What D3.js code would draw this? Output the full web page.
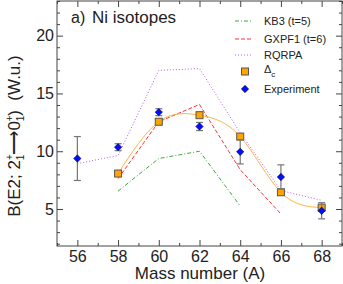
<!DOCTYPE html>
<meta charset="utf-8">
<style>
body { margin: 0; background: #fff; }
text { font-family: "Liberation Sans", Arial, sans-serif; fill: #222; }
</style>
<body>
<script src="https://d3js.org/d3.v7.min.js"></script>
<script>

width = 343;
height = 284;
margin = ({top: 1, right: 1, bottom: 38, left: 57});

// model curves
kb3A = [58, 60, 62, 64];
kb3 = [6.55, 9.37, 10.0, 5.26];
gxpfA = [58, 60, 62, 64, 66];
gxpf = [7.63, 12.55, 14.05, 8.4, 4.57];
rqrpaA = [56, 58, 60, 62, 64, 66, 68];
rqrpa = [8.93, 9.63, 17.0, 17.15, 11.6, 6.6, 5.75];

// Delta_c points
dcA = [58, 60, 62, 64, 66, 68];
dc = [8.07, 12.55, 13.12, 11.27, 6.45, 5.12];

// experiment with errors
expA = [56, 58, 60, 62, 64, 66, 68];
expV = [9.37, 10.35, 13.38, 12.14, 9.95, 7.77, 4.85];
expErr = [1.9, 0.3, 0.3, 0.35, 1.05, 1.05, 0.7];

xTicks = [56, 58, 60, 62, 64, 66, 68];
yTicks = [5, 10, 15, 20];

x = d3.scaleLinear([55, 69], [margin.left, width - margin.right]);
y = d3.scaleLinear([1.8, 23], [height - margin.bottom, margin.top]);

svg = d3.select("body").append("svg")
    .attr("width", width)
    .attr("height", height);

frameColor = "#444";

// axes, ticks pointing inward on all four sides
function ticksX(g, len, vals, labels) {
  g.call(d3.axisBottom(x).tickValues(vals).tickSizeInner(-len).tickSizeOuter(0)
      .tickFormat(labels ? d3.format("d") : ""));
  g.select(".domain").remove();
  g.selectAll("line").attr("stroke", frameColor);
  g.selectAll("text").attr("font-size", 16).attr("y", 5).attr("dy", "0.71em");
}
function ticksY(g, len, vals, labels) {
  g.call(d3.axisLeft(y).tickValues(vals).tickSizeInner(-len).tickSizeOuter(0)
      .tickFormat(labels ? d3.format("d") : ""));
  g.select(".domain").remove();
  g.selectAll("line").attr("stroke", frameColor);
  g.selectAll("text").attr("font-size", 16).attr("x", -3);
}

xMinor = d3.range(55, 70, 1).filter(v => v % 2 == 1);
yMinor = d3.range(2, 24, 1).filter(v => v % 5 != 0);

svg.append("g").attr("transform", `translate(0,${height - margin.bottom})`).call(ticksX, 6, xTicks, true);
svg.append("g").attr("transform", `translate(0,${height - margin.bottom})`).call(ticksX, 3, xMinor, false);
svg.append("g").attr("transform", `translate(0,${margin.top})`).call(g => {
  g.call(d3.axisTop(x).tickValues(xTicks).tickSizeInner(-6).tickSizeOuter(0).tickFormat(""));
  g.select(".domain").remove(); g.selectAll("line").attr("stroke", frameColor);
});
svg.append("g").attr("transform", `translate(0,${margin.top})`).call(g => {
  g.call(d3.axisTop(x).tickValues(xMinor).tickSizeInner(-3).tickSizeOuter(0).tickFormat(""));
  g.select(".domain").remove(); g.selectAll("line").attr("stroke", frameColor);
});
svg.append("g").attr("transform", `translate(${margin.left},0)`).call(ticksY, 6, yTicks, true);
svg.append("g").attr("transform", `translate(${margin.left},0)`).call(ticksY, 3, yMinor, false);
svg.append("g").attr("transform", `translate(${width - margin.right},0)`).call(g => {
  g.call(d3.axisRight(y).tickValues(yTicks).tickSizeInner(-6).tickSizeOuter(0).tickFormat(""));
  g.select(".domain").remove(); g.selectAll("line").attr("stroke", frameColor);
});
svg.append("g").attr("transform", `translate(${width - margin.right},0)`).call(g => {
  g.call(d3.axisRight(y).tickValues(yMinor).tickSizeInner(-3).tickSizeOuter(0).tickFormat(""));
  g.select(".domain").remove(); g.selectAll("line").attr("stroke", frameColor);
});

svg.append("rect")
    .attr("x", margin.left).attr("y", margin.top)
    .attr("width", width - margin.left - margin.right)
    .attr("height", height - margin.top - margin.bottom)
    .attr("fill", "none").attr("stroke", frameColor).attr("stroke-width", 1);

// lines
function series(xs, ys) { return xs.map((a, i) => [a, ys[i]]); }
line = d3.line().x(d => x(d[0])).y(d => y(d[1]));

svg.append("path").datum(series(kb3A, kb3)).attr("d", line)
    .attr("fill", "none").attr("stroke", "#3aa83a").attr("stroke-width", 1)
    .attr("stroke-dasharray", "4,2,1,2");
svg.append("path").datum(series(gxpfA, gxpf)).attr("d", line)
    .attr("fill", "none").attr("stroke", "#ff3030").attr("stroke-width", 1)
    .attr("stroke-dasharray", "4,2");
svg.append("path").datum(series(rqrpaA, rqrpa)).attr("d", line)
    .attr("fill", "none").attr("stroke", "#b45cf0").attr("stroke-width", 1)
    .attr("stroke-dasharray", "1,2");
svg.append("path").datum(series(dcA, dc))
    .attr("d", d3.line().x(d => x(d[0])).y(d => y(d[1])).curve(d3.curveNatural))
    .attr("fill", "none").attr("stroke", "#ffb347").attr("stroke-width", 1);

// squares
svg.append("g").selectAll("rect")
  .data(series(dcA, dc))
  .join("rect")
    .attr("x", d => x(d[0]) - 3.5).attr("y", d => y(d[1]) - 3.5)
    .attr("width", 7).attr("height", 7)
    .attr("fill", "#ffa500").attr("stroke", "#555").attr("stroke-width", 1);

// experiment error bars
expData = expA.map((a, i) => ({a: a, v: expV[i], e: expErr[i]}));
eb = svg.append("g").attr("stroke", "#777").attr("stroke-width", 1.2);
eb.selectAll(".v").data(expData).join("line")
    .attr("x1", d => x(d.a)).attr("x2", d => x(d.a))
    .attr("y1", d => y(d.v - d.e)).attr("y2", d => y(d.v + d.e));
eb.selectAll(".t").data(expData).join("line")
    .attr("x1", d => x(d.a) - 3.5).attr("x2", d => x(d.a) + 3.5)
    .attr("y1", d => y(d.v + d.e)).attr("y2", d => y(d.v + d.e));
eb.selectAll(".b").data(expData).join("line")
    .attr("x1", d => x(d.a) - 3.5).attr("x2", d => x(d.a) + 3.5)
    .attr("y1", d => y(d.v - d.e)).attr("y2", d => y(d.v - d.e));

diamond = d3.symbol().type(d3.symbolDiamond2).size(34);
svg.append("g").selectAll("path")
  .data(expData)
  .join("path")
    .attr("transform", d => `translate(${x(d.a)},${y(d.v)})`)
    .attr("d", diamond)
    .attr("fill", "#0010ff").attr("stroke", "#002").attr("stroke-width", 0.6);

// title
svg.append("text").attr("x", 71).attr("y", 23).attr("font-size", 16).text("a)");
svg.append("text").attr("x", 92).attr("y", 23).attr("font-size", 17).text("Ni isotopes");

// legend
lg = svg.append("g");
lx0 = 235, lx1 = 253, tx = 264;
lg.append("line").attr("x1", lx0).attr("x2", lx1).attr("y1", 21).attr("y2", 21)
    .attr("stroke", "#3aa83a").attr("stroke-dasharray", "4,2,1,2");
lg.append("text").attr("x", tx).attr("y", 21).attr("dy", "0.35em").attr("font-size", 11).text("KB3 (t=5)");
lg.append("line").attr("x1", lx0).attr("x2", lx1).attr("y1", 39).attr("y2", 39)
    .attr("stroke", "#ff3030").attr("stroke-dasharray", "4,2");
lg.append("text").attr("x", tx).attr("y", 39).attr("dy", "0.35em").attr("font-size", 11).text("GXPF1 (t=6)");
lg.append("line").attr("x1", lx0).attr("x2", lx1).attr("y1", 55).attr("y2", 55)
    .attr("stroke", "#b45cf0").attr("stroke-dasharray", "1,2");
lg.append("text").attr("x", tx).attr("y", 55).attr("dy", "0.35em").attr("font-size", 11).text("RQRPA");
lg.append("rect").attr("x", 241.5).attr("y", 68).attr("width", 7).attr("height", 7)
    .attr("fill", "#ffa500").attr("stroke", "#555");
dl = lg.append("text").attr("x", tx).attr("y", 73).attr("font-size", 11);
dl.append("tspan").text("\u0394");
dl.append("tspan").attr("dy", 4).attr("font-size", 8).text("c");
lg.append("path").attr("transform", "translate(245,89)").attr("d", diamond)
    .attr("fill", "#0010ff").attr("stroke", "#002").attr("stroke-width", 0.6);
lg.append("text").attr("x", tx).attr("y", 89).attr("dy", "0.35em").attr("font-size", 11).text("Experiment");

// axis titles
svg.append("text").attr("x", 200).attr("y", 279).attr("text-anchor", "middle")
    .attr("font-size", 17).text("Mass number (A)");

yl = svg.append("text").attr("transform", "translate(20,136) rotate(-90)")
    .attr("text-anchor", "middle").attr("font-size", 17);
yl.append("tspan").text("B(E2; 2");
yl.append("tspan").attr("font-size", 10).attr("dy", -7).text("+");
yl.append("tspan").attr("font-size", 10).attr("dx", -6).attr("dy", 11).text("1");
yl.append("tspan").attr("dy", -4).text("\u27F6");
yl.append("tspan").text("0");
yl.append("tspan").attr("font-size", 10).attr("dy", -7).text("+");
yl.append("tspan").attr("font-size", 10).attr("dx", -6).attr("dy", 11).text("1");
yl.append("tspan").attr("dy", -4).text(")\u00A0\u00A0(W.u.)");

</script>
</body>
